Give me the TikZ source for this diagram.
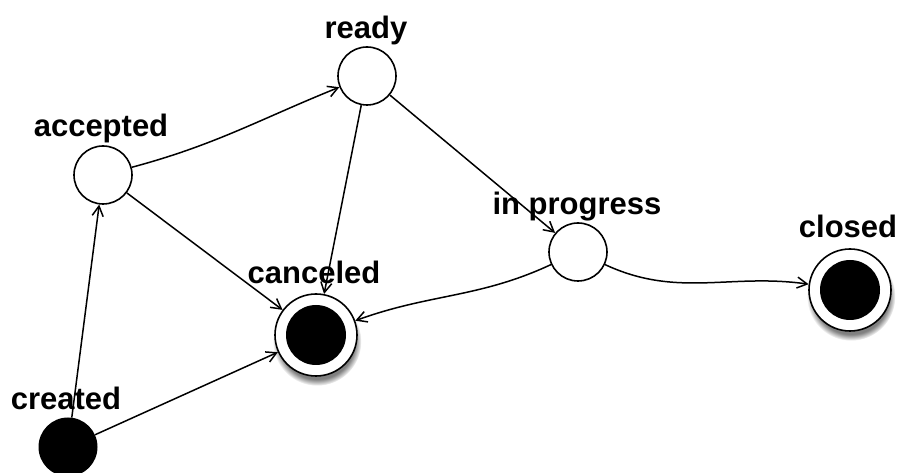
\documentclass[tikz,border=0pt]{standalone}
\usepackage{fontspec}
\setmainfont{Liberation Sans}
\usepackage{tikz}
\usetikzlibrary{arrows.meta,shadows}

\begin{document}
\begin{tikzpicture}[x=1pt, y=1pt,
	state/.style={circle, draw=black, line width=1.6pt, fill=white, minimum size=58pt, inner sep=0pt},
	startstate/.style={circle, fill=black, minimum size=59pt, inner sep=0pt},
	endstate/.style={circle, draw=black, line width=1.6pt, fill=white, minimum size=82pt, inner sep=0pt, circular drop shadow={shadow xshift=1pt, shadow yshift=-6pt, shadow scale=1.08, opacity=1}},
	endcore/.style={circle, fill=black, minimum size=60pt, inner sep=0pt},
	lbl/.style={anchor=base, inner sep=0pt, font=\fontsize{31}{37}\selectfont\bfseries},
	trans/.style={line width=1.5pt, -{Straight Barb[length=10pt, width=11pt]}}]
			%%%%% START %%%%%
			
			\useasboundingbox (0, 0) rectangle (899, 473);
			
			\node[state] (ready) at (367, 397) {};
			\node[state] (accepted) at (103, 298) {};
			\node[state] (inprogress) at (578, 221) {};
			\node[startstate] (created) at (68, 26) {};
			
			\node[endstate] (canceled) at (316, 138) {};
			\node[endcore] (canceledcore) at (canceled) {};
			\node[endstate] (closed) at (850, 183) {};
			\node[endcore] (closedcore) at (closed) {};
			
			\node[lbl] (readylbl) at (366, 434) {ready};
			\node[lbl] (acceptedlbl) at (101, 336) {accepted};
			\node[lbl] (createdlbl) at (66, 63) {created};
			\node[lbl] (canceledlbl) at (314, 189) {canceled};
			\node[lbl] (inprogresslbl) at (577, 258) {in progress};
			\node[lbl] (closedlbl) at (848, 235) {closed};
			
			\draw[trans] (created) -- (accepted);
			\draw[trans] (created) -- (canceled);
			\draw[trans] (accepted) to[out=15, in=202] (ready);
			\draw[trans] (accepted) -- (canceled);
			\draw[trans] (ready) -- (canceled);
			\draw[trans] (ready) -- (inprogress);
			\draw[trans] (inprogress) to[out=205, in=20] (canceled);
			\draw[trans] (inprogress) to[out=-25, in=172] (closed);
			
			%%%%% END %%%%%
		\end{tikzpicture}
\end{document}
